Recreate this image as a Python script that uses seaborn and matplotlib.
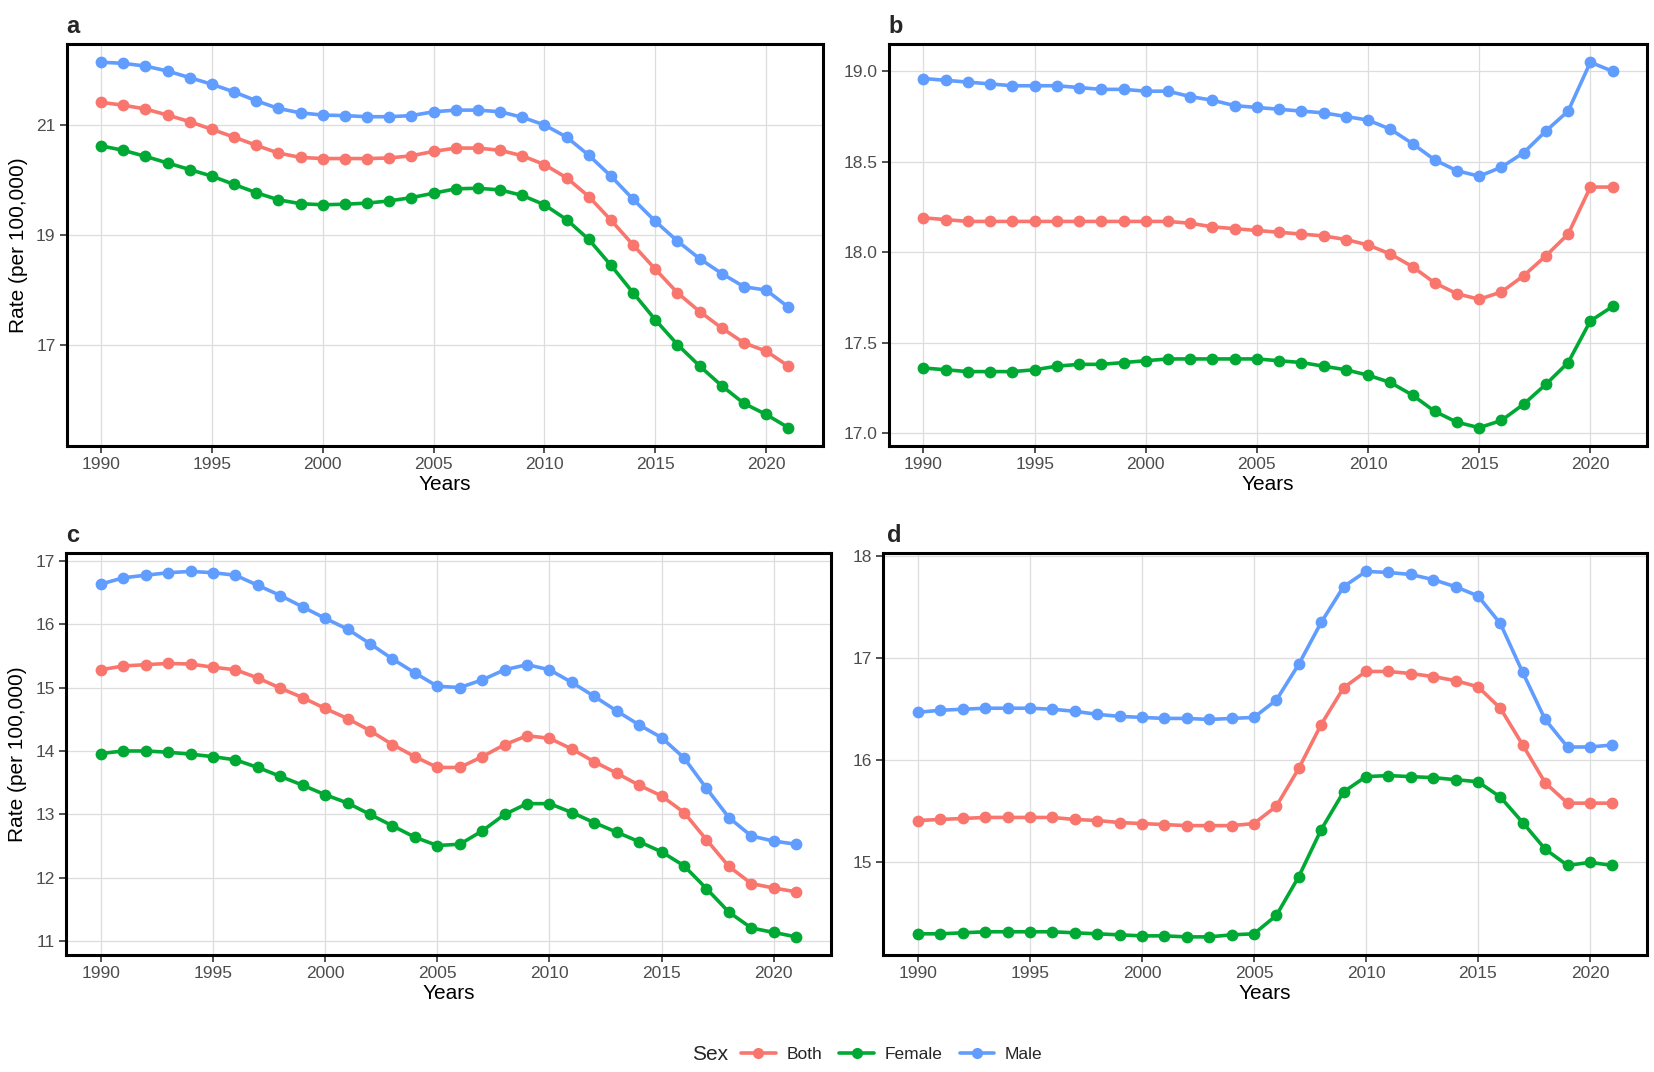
import numpy as np
import pandas as pd
import matplotlib
matplotlib.use("Agg")
import matplotlib.pyplot as plt
from matplotlib.lines import Line2D
import seaborn as sns

years = list(range(1990, 2022))
sexes = ["Both", "Female", "Male"]
palette = {"Both": "#F8766D", "Female": "#00A933", "Male": "#619CFF"}

# Panel a
a_male = [22.14, 22.12, 22.07, 21.98, 21.86, 21.74, 21.60, 21.44, 21.30, 21.22, 21.18, 21.17, 21.15, 21.15, 21.17, 21.24,
          21.27, 21.27, 21.24, 21.14, 21.00, 20.78, 20.45, 20.07, 19.65, 19.25, 18.89, 18.57, 18.30, 18.06, 18.00, 17.69]
a_both = [21.41, 21.36, 21.29, 21.18, 21.06, 20.92, 20.78, 20.63, 20.49, 20.41, 20.39, 20.39, 20.39, 20.40, 20.44, 20.52,
          20.58, 20.58, 20.54, 20.44, 20.28, 20.04, 19.70, 19.27, 18.82, 18.38, 17.95, 17.61, 17.31, 17.04, 16.89, 16.62]
a_female = [20.62, 20.54, 20.43, 20.31, 20.19, 20.07, 19.92, 19.77, 19.64, 19.57, 19.55, 19.56, 19.58, 19.62, 19.68, 19.76,
            19.84, 19.85, 19.82, 19.72, 19.55, 19.28, 18.92, 18.45, 17.95, 17.46, 17.01, 16.62, 16.26, 15.94, 15.74, 15.50]

# Panel b
b_male = [18.96, 18.95, 18.94, 18.93, 18.92, 18.92, 18.92, 18.91, 18.90, 18.90, 18.89, 18.89, 18.86, 18.84, 18.81, 18.80,
          18.79, 18.78, 18.77, 18.75, 18.73, 18.68, 18.60, 18.51, 18.45, 18.42, 18.47, 18.55, 18.67, 18.78, 19.05, 19.00]
b_both = [18.19, 18.18, 18.17, 18.17, 18.17, 18.17, 18.17, 18.17, 18.17, 18.17, 18.17, 18.17, 18.16, 18.14, 18.13, 18.12,
          18.11, 18.10, 18.09, 18.07, 18.04, 17.99, 17.92, 17.83, 17.77, 17.74, 17.78, 17.87, 17.98, 18.10, 18.36, 18.36]
b_female = [17.36, 17.35, 17.34, 17.34, 17.34, 17.35, 17.37, 17.38, 17.38, 17.39, 17.40, 17.41, 17.41, 17.41, 17.41, 17.41,
            17.40, 17.39, 17.37, 17.35, 17.32, 17.28, 17.21, 17.12, 17.06, 17.03, 17.07, 17.16, 17.27, 17.39, 17.62, 17.70]

# Panel c
c_male = [16.63, 16.73, 16.77, 16.81, 16.83, 16.81, 16.77, 16.61, 16.45, 16.27, 16.09, 15.92, 15.69, 15.45, 15.23, 15.02,
          15.00, 15.12, 15.28, 15.36, 15.28, 15.08, 14.86, 14.63, 14.41, 14.21, 13.89, 13.41, 12.95, 12.66, 12.58, 12.53]
c_both = [15.28, 15.34, 15.36, 15.38, 15.37, 15.32, 15.28, 15.15, 14.99, 14.84, 14.67, 14.51, 14.32, 14.10, 13.91, 13.74,
          13.74, 13.91, 14.10, 14.24, 14.20, 14.03, 13.83, 13.65, 13.46, 13.29, 13.03, 12.60, 12.18, 11.91, 11.84, 11.78]
c_female = [13.96, 14.00, 14.00, 13.98, 13.95, 13.91, 13.86, 13.74, 13.60, 13.46, 13.31, 13.18, 13.00, 12.82, 12.64, 12.51,
            12.53, 12.74, 13.00, 13.17, 13.17, 13.03, 12.87, 12.72, 12.57, 12.41, 12.19, 11.83, 11.46, 11.21, 11.14, 11.07]

# Panel d
d_male = [16.47, 16.49, 16.50, 16.51, 16.51, 16.51, 16.50, 16.48, 16.45, 16.43, 16.42, 16.41, 16.41, 16.40, 16.41, 16.42,
          16.59, 16.94, 17.35, 17.70, 17.85, 17.84, 17.82, 17.77, 17.70, 17.61, 17.34, 16.86, 16.40, 16.13, 16.13, 16.15]
d_both = [15.41, 15.42, 15.43, 15.44, 15.44, 15.44, 15.44, 15.42, 15.41, 15.39, 15.38, 15.37, 15.36, 15.36, 15.36, 15.38,
          15.55, 15.92, 16.35, 16.71, 16.87, 16.87, 16.85, 16.82, 16.78, 16.72, 16.51, 16.15, 15.78, 15.58, 15.58, 15.58]
d_female = [14.30, 14.30, 14.31, 14.32, 14.32, 14.32, 14.32, 14.31, 14.30, 14.29, 14.28, 14.28, 14.27, 14.27, 14.29, 14.30,
            14.48, 14.86, 15.32, 15.69, 15.84, 15.85, 15.84, 15.83, 15.81, 15.79, 15.64, 15.39, 15.13, 14.97, 15.00, 14.97]

x_ticks = [1990, 1995, 2000, 2005, 2010, 2015, 2020]
a_yticks = [17, 19, 21]
b_yticks = [17.0, 17.5, 18.0, 18.5, 19.0]
c_yticks = [11, 12, 13, 14, 15, 16, 17]
d_yticks = [15, 16, 17, 18]

panels = {
    "a": ({"Both": a_both, "Female": a_female, "Male": a_male}, a_yticks, "{:.0f}"),
    "b": ({"Both": b_both, "Female": b_female, "Male": b_male}, b_yticks, "{:.1f}"),
    "c": ({"Both": c_both, "Female": c_female, "Male": c_male}, c_yticks, "{:.0f}"),
    "d": ({"Both": d_both, "Female": d_female, "Male": d_male}, d_yticks, "{:.0f}"),
}

sns.set_style("white")
plt.rcParams["font.family"] = ["Liberation Sans", "DejaVu Sans"]

fig = plt.figure(figsize=(16.54, 10.72), dpi=100)
rects = {
    "a": [0.0403, 0.584, 0.4571, 0.375],
    "b": [0.5375, 0.584, 0.4583, 0.375],
    "c": [0.0400, 0.109, 0.4624, 0.375],
    "d": [0.5340, 0.109, 0.4618, 0.375],
}
label_pos = {"a": (0.040, 0.975), "b": (0.537, 0.975), "c": (0.040, 0.500), "d": (0.536, 0.500)}

for key, (series, yt, fmt) in panels.items():
    ax = fig.add_axes(rects[key])
    rows = []
    for s in sexes:
        for yr, v in zip(years, series[s]):
            rows.append({"Year": yr, "Rate": v, "Sex": s})
    df = pd.DataFrame(rows)
    sns.lineplot(data=df, x="Year", y="Rate", hue="Sex", hue_order=sexes, palette=palette,
                 marker="o", markersize=8.5, markeredgewidth=0, linewidth=2.6,
                 legend=False, ax=ax, zorder=3)
    ax.set_xticks(x_ticks)
    ax.set_yticks(yt)
    ax.set_yticklabels([fmt.format(v) for v in yt])
    ax.grid(True, color="#DDDDDD", linewidth=0.9)
    ax.set_axisbelow(True)
    for sp in ax.spines.values():
        sp.set_visible(True)
        sp.set_color("black")
        sp.set_linewidth(2.2)
    ax.tick_params(axis="both", direction="out", length=5, width=1.2, color="#333333",
                   labelsize=12.5, labelcolor="#4D4D4D", pad=3, bottom=True, left=True)
    ax.set_xlabel("Years", fontsize=15, labelpad=2, color="black")
    if key in ("a", "c"):
        ax.set_ylabel("Rate (per 100,000)", fontsize=15, labelpad=6, color="black")
    else:
        ax.set_ylabel("")
    fig.text(label_pos[key][0], label_pos[key][1], key, fontsize=17, fontweight="bold",
             ha="left", va="center")

handles = [Line2D([0], [0], color=palette[s], marker="o", markersize=8, linewidth=2.6,
                  markeredgewidth=0) for s in sexes]
fig.text(0.440, 0.016, "Sex", fontsize=15, ha="right", va="center")
fig.legend(handles, sexes, loc="center left", bbox_to_anchor=(0.448, 0.016), ncol=3, frameon=False,
           fontsize=12.5, handlelength=2.0, columnspacing=1.0, handletextpad=0.6,
           borderaxespad=0, borderpad=0)

fig.savefig("out.png", dpi=100)
